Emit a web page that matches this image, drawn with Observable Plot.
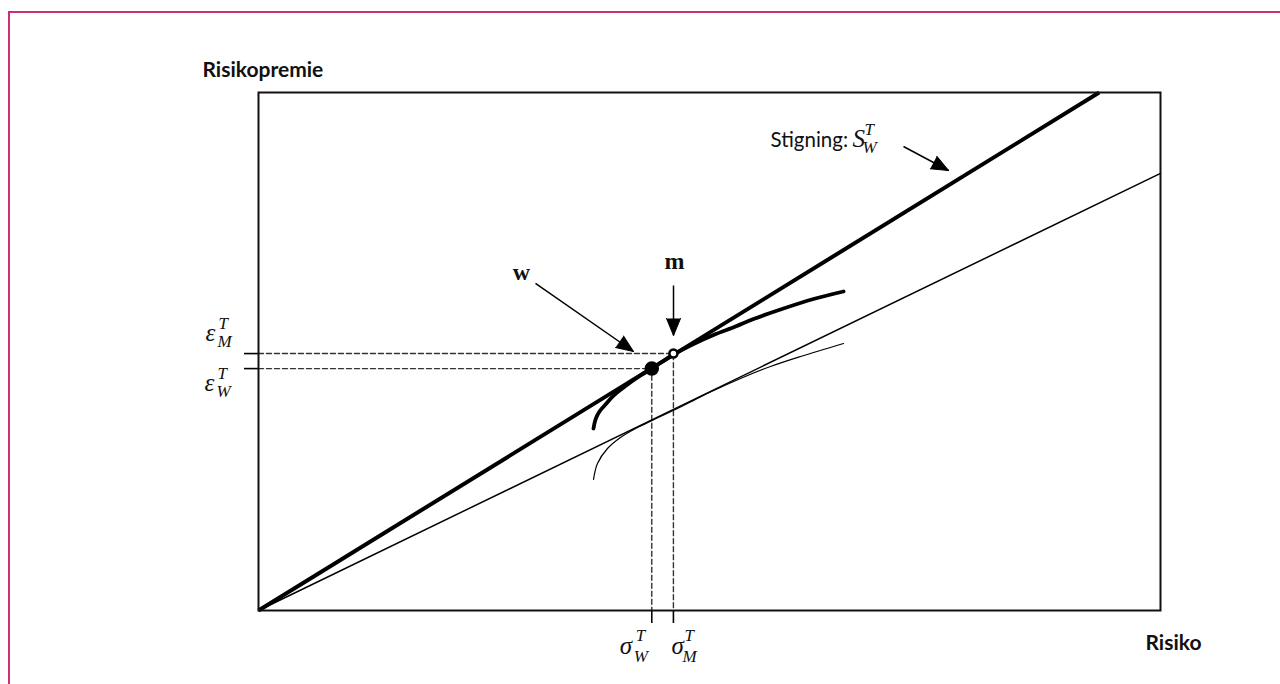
<!DOCTYPE html>
<html><head><meta charset="utf-8">
<script src="https://cdn.jsdelivr.net/npm/d3@7"></script>
<script src="https://cdn.jsdelivr.net/npm/@observablehq/plot@0.6"></script>
<style>
html,body{margin:0;padding:0;background:#fff;overflow:hidden}
#wrap{position:relative;width:1280px;height:684px}
#border{position:absolute;left:8px;top:11px;width:1300px;height:700px;border-left:2px solid #c8317a;border-top:2px solid #c8317a;box-sizing:border-box;pointer-events:none}
#chart{position:absolute;left:0;top:0}
svg [aria-label="x-axis tick"], svg [aria-label="y-axis tick"]{stroke-width:1.6px}
</style></head><body>
<div id="wrap"><div id="chart"></div><div id="border"></div></div>
<script>
// ---------------- data (arbitrary units: risk 0–100, premium 0–100) ----------------
const riskDomain = [0, 100];
const premiumDomain = [0, 100];

// tangent line from origin through w, slope S_W^T (thick)
const steepLineX = [0, 93.2];
const steepLineY = [0, 100];
// lower line from origin (thin)
const flatLineX = [0, 100];
const flatLineY = [0, 84.4];

// thick frontier
const thickFrontierX = [37.14, 37.36, 37.80, 38.47, 39.36, 40.69, 42.35, 43.57, 44.79, 46.01, 47.89, 50.44, 52.88, 54.88, 57.87, 61.53, 64.86];
const thickFrontierY = [35.14, 36.87, 38.42, 39.77, 41.50, 43.34, 45.37, 46.66, 48.07, 49.42, 51.16, 53.19, 54.83, 56.27, 58.11, 60.14, 61.58];
// thin frontier
const thinFrontierX = [37.14, 37.58, 38.69, 40.13, 42.02, 44.57, 47.34, 50.11, 53.44, 56.76, 60.09, 64.86];
const thinFrontierY = [25.29, 28.38, 31.27, 33.40, 35.33, 37.45, 39.77, 42.18, 44.79, 47.10, 49.03, 51.54];

// portfolios
const pointW = {x: 43.6, y: 46.7};
const pointM = {x: 46.0, y: 49.6};

// tick values
const riskTicks = [pointW.x, pointM.x];
const premiumTicks = [pointW.y, pointM.y];

// annotation arrows (start -> tip)
const arrowStartX = [30.71, 46.01, 71.51];
const arrowStartY = [63.13, 62.74, 89.58];
const arrowEndX   = [41.57, 46.01, 76.50];
const arrowEndY   = [50.00, 53.09, 84.94];

// ---------------- layout ----------------
const W = 1280, H = 684;
const mL = 258, mR = 120, mT = 92, mB = 74;
const sx = d3.scaleLinear(riskDomain, [mL, W - mR]);
const sy = d3.scaleLinear(premiumDomain, [H - mB, mT]);

const zip = (xs, ys) => xs.map((x, i) => ({x, y: ys[i]}));
const steepLine = zip(steepLineX, steepLineY);
const flatLine = zip(flatLineX, flatLineY);
const thickFrontier = zip(thickFrontierX, thickFrontierY);
const thinFrontier = zip(thinFrontierX, thinFrontierY);
const arrows = arrowStartX.map((x1, i) => ({x1, y1: arrowStartY[i], x2: arrowEndX[i], y2: arrowEndY[i]}));
const angleOf = d => Math.atan2(sx(d.x2) - sx(d.x1), -(sy(d.y2) - sy(d.y1))) * 180 / Math.PI;

const guideM = [{x: 0, y: pointM.y}, {x: pointM.x, y: pointM.y}, {x: pointM.x, y: 0}];
const guideW = [{x: 0, y: pointW.y}, {x: pointW.x, y: pointW.y}, {x: pointW.x, y: 0}];

const serif = "Liberation Serif, DejaVu Serif, serif";
const sans = "Lato, Open Sans, sans-serif";

function mathLabel(anchor, base, sup, sub, o) {
  const common = {x: "x", y: "y", textAnchor: "start", lineAnchor: "bottom", fontFamily: serif, fontStyle: "italic", fill: "#111"};
  return [
    Plot.text([anchor], {...common, text: () => base, dx: o.bx, dy: o.by, fontSize: 25}),
    Plot.text([anchor], {...common, text: () => sup, dx: o.px, dy: o.py, fontSize: 17}),
    Plot.text([anchor], {...common, text: () => sub, dx: o.qx, dy: o.qy, fontSize: 17})
  ];
}

const frameTopLeft = {x: riskDomain[0], y: premiumDomain[1]};
const frameBottomRight = {x: riskDomain[1], y: premiumDomain[0]};
const stigAnchor = {x: arrowStartX[2], y: arrowStartY[2]};

const chart = Plot.plot({
  width: W, height: H,
  marginLeft: mL, marginRight: mR, marginTop: mT, marginBottom: mB,
  style: {background: "transparent", overflow: "visible"},
  x: {domain: riskDomain, axis: "bottom", ticks: riskTicks, tickSize: 13, tickFormat: () => "", label: null},
  y: {domain: premiumDomain, axis: "left", ticks: premiumTicks, tickSize: 14, tickFormat: () => "", label: null},
  marks: [
    Plot.line(guideM, {x: "x", y: "y", stroke: "#333", strokeWidth: 1.4, strokeDasharray: "5,3"}),
    Plot.line(guideW, {x: "x", y: "y", stroke: "#333", strokeWidth: 1.4, strokeDasharray: "5,3"}),
    Plot.line(flatLine, {x: "x", y: "y", stroke: "#000", strokeWidth: 1.5}),
    Plot.line(thinFrontier, {x: "x", y: "y", stroke: "#000", strokeWidth: 1.2, curve: "catmull-rom"}),
    Plot.line(steepLine, {x: "x", y: "y", stroke: "#000", strokeWidth: 4, strokeLinecap: "butt"}),
    Plot.line(thickFrontier, {x: "x", y: "y", stroke: "#000", strokeWidth: 3.8, curve: "catmull-rom"}),
    Plot.frame({stroke: "#111", strokeWidth: 2}),
    Plot.dot([pointW], {x: "x", y: "y", r: 6.5, fill: "#000", stroke: "#000"}),
    Plot.dot([pointM], {x: "x", y: "y", r: 4, fill: "#fff", stroke: "#000", strokeWidth: 2.5}),
    Plot.link(arrows, {x1: "x1", y1: "y1", x2: "x2", y2: "y2", stroke: "#000", strokeWidth: 1.5}),
    Plot.vector(arrows, {x: "x2", y: "y2", rotate: angleOf, length: 17, r: 7, shape: "spike", anchor: "end", fill: "#000", stroke: "#000", strokeWidth: 1}),
    // labels
    Plot.text([{x: arrowStartX[0], y: arrowStartY[0]}], {x: "x", y: "y", text: () => "w", dx: -14, dy: -3, lineAnchor: "bottom", fontFamily: serif, fontWeight: "bold", fontSize: 24, fill: "#111"}),
    Plot.text([{x: arrowStartX[1], y: arrowStartY[1]}], {x: "x", y: "y", text: () => "m", dx: 1, dy: -17, lineAnchor: "bottom", fontFamily: serif, fontWeight: "bold", fontSize: 24, fill: "#111"}),
    Plot.text([stigAnchor], {x: "x", y: "y", text: () => "Stigning:", dx: -133, dy: 1, textAnchor: "start", lineAnchor: "bottom", fontFamily: sans, fontSize: 20.5, fill: "#111"}),
    ...mathLabel(stigAnchor, "S", "T", "W", {bx: -51, by: 1, px: -39, py: -11, qx: -41, qy: 7}),
    Plot.text([frameTopLeft], {x: "x", y: "y", text: () => "Risikopremie", dx: -56, dy: -16, textAnchor: "start", lineAnchor: "bottom", fontFamily: sans, fontWeight: "bold", fontSize: 21, fill: "#111"}),
    Plot.text([frameBottomRight], {x: "x", y: "y", text: () => "Risiko", dx: -15, dy: 39, textAnchor: "start", lineAnchor: "bottom", fontFamily: sans, fontWeight: "bold", fontSize: 21, fill: "#111"}),
    ...mathLabel({x: 0, y: pointM.y}, "ε", "T", "M", {bx: -53, by: -13, px: -40, py: -25, qx: -41, qy: -7}),
    ...mathLabel({x: 0, y: pointW.y}, "ε", "T", "W", {bx: -54, by: 22, px: -41, py: 10, qx: -42, qy: 28}),
    ...mathLabel({x: pointW.x, y: 0}, "σ", "T", "W", {bx: -32, by: 43, px: -16, py: 30, qx: -18, qy: 51}),
    ...mathLabel({x: pointM.x, y: 0}, "σ", "T", "M", {bx: -2, by: 43, px: 11, py: 30, qx: 9, qy: 51})
  ]
});
document.getElementById("chart").appendChild(chart);
</script>
</body></html>
